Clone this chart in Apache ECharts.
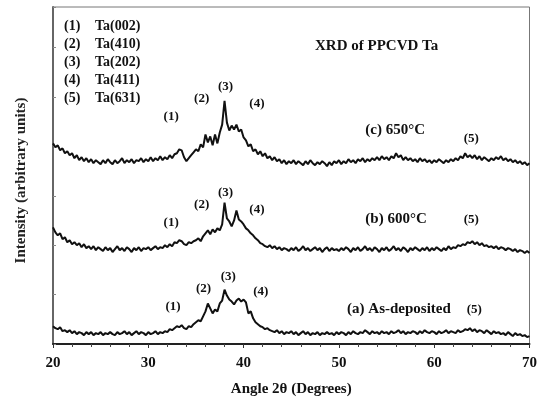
<!DOCTYPE html>
<html>
<head>
<meta charset="utf-8">
<title>XRD of PPCVD Ta</title>
<script src="https://cdn.jsdelivr.net/npm/echarts@6/dist/echarts.min.js"></script>
<style>
  html, body { margin: 0; padding: 0; background: #fff; }
  #xrd { width: 540px; height: 402px; }
</style>
</head>
<body>
<div id="xrd"></div>
<script>
// scan: 20..70 deg, 0.25 deg step
var angleStart = 20;
var angleStep = 0.25;

// (c) 650°C, offset intensity (arb.)
var trace650 = [
  203,199,201,196,198,193,195,191,193,188,191,186,189,185,188,184,187,183,186,184,
  182,186,183,187,184,182,186,183,185,188,183,186,184,187,183,186,185,188,184,187,
  185,189,185,188,186,190,186,189,187,191,188,192,193,197,196,189,185,188,191,194,
  197,195,202,199,212,204,210,201,212,203,214,222,246,224,216,221,217,222,215,217,
  209,206,200,202,195,197,192,195,190,193,188,190,186,189,185,187,183,186,182,185,
  183,186,182,185,183,181,185,182,186,183,181,184,182,185,183,180,184,181,185,183,
  186,182,185,183,187,184,186,183,187,185,188,184,187,185,188,186,189,186,190,187,
  189,186,190,188,193,189,191,186,189,186,188,185,187,184,188,185,187,184,186,183,
  186,184,187,185,183,186,184,187,185,188,186,190,188,193,189,191,188,191,187,190,
  186,189,187,185,188,186,189,187,190,186,188,185,187,184,186,183,185,182,184,181,
  183
];

// (b) 600°C
var trace600 = [
  118,113,110,112,106,108,103,105,101,103,100,102,98,101,97,99,96,99,95,98,
  96,94,98,95,97,93,96,99,95,97,94,98,96,93,97,95,98,94,97,96,
  98,95,97,99,96,98,97,100,98,101,99,103,102,105,104,101,100,103,102,104,
  105,107,104,109,112,115,111,116,113,117,115,121,143,127,124,119,125,135,126,124,
  121,117,115,112,110,107,105,102,101,99,98,100,97,99,96,98,95,97,96,94,
  97,95,98,94,96,99,95,97,94,96,98,95,97,93,96,98,94,97,95,96,
  94,97,95,98,96,93,97,95,98,94,96,99,95,97,94,98,96,93,97,95,
  98,94,96,99,95,97,94,98,96,93,97,95,98,96,94,97,95,98,94,97,
  95,98,96,94,97,95,99,96,98,97,100,99,101,100,103,102,104,101,103,100,
  102,99,100,98,99,97,99,96,98,97,95,97,96,94,96,93,95,94,92,94,
  92
];

// (a) as-deposited
var traceAsDep = [
  18,16,15,17,13,14,12,14,11,13,10,12,11,9,12,10,12,9,11,10,
  12,9,11,10,12,10,9,12,10,11,13,10,12,9,11,13,10,12,11,9,
  12,10,11,13,10,12,11,13,12,15,14,16,18,17,19,16,15,18,17,20,
  22,24,23,28,33,41,36,31,35,33,41,44,55,49,45,43,40,44,46,43,
  45,42,31,33,26,22,20,18,17,15,16,14,13,12,14,11,13,10,12,11,
  13,10,12,9,11,13,10,12,9,11,10,12,9,11,10,12,10,11,9,12,
  10,12,11,9,12,10,13,11,10,12,11,14,12,10,13,11,12,10,13,11,
  12,10,13,11,12,14,11,13,10,12,11,13,12,10,13,11,14,12,11,13,
  12,10,13,11,12,14,11,13,12,11,14,12,13,15,14,16,13,15,12,14,
  13,11,14,12,10,13,11,12,10,11,9,12,10,8,11,9,10,8,9,7,
  8
];

// peak number labels [angle, intensity, text]
var peakLabels = [
  [32.4, 230, '(1)'], [35.6, 248, '(2)'], [38.1, 260, '(3)'], [41.4, 243, '(4)'], [63.9, 208, '(5)'],
  [32.4, 123, '(1)'], [35.6, 141, '(2)'], [38.1, 153, '(3)'], [41.4, 136, '(4)'], [63.9, 126, '(5)'],
  [32.6, 38, '(1)'], [35.8, 56, '(2)'], [38.4, 68, '(3)'], [41.8, 53, '(4)'], [64.2, 35, '(5)']
];
var sampleLabels = [
  [55.9, 216, '(c) 650°C'],
  [56.0, 126, '(b) 600°C'],
  [56.3, 35, '(a) As-deposited']
];
var peakKeys = ['(1)', '(2)', '(3)', '(4)', '(5)'];
var peakNames = ['Ta(002)', 'Ta(410)', 'Ta(202)', 'Ta(411)', 'Ta(631)'];

var serif = '"Liberation Serif", "DejaVu Serif", serif';

function toPairs(arr) {
  var out = [];
  for (var i = 0; i < arr.length; i++) {
    out.push([angleStart + i * angleStep, arr[i]]);
  }
  return out;
}

function traceSeries(name, arr) {
  return {
    name: name,
    type: 'line',
    data: toPairs(arr),
    showSymbol: false,
    symbol: 'none',
    lineStyle: { color: '#111', width: 2 },
    silent: true
  };
}

// legend block top-left
var legendGraphics = [];
for (var k = 0; k < peakKeys.length; k++) {
  legendGraphics.push({
    type: 'text', left: 64, top: 19 + k * 18,
    style: { text: peakKeys[k], font: 'bold 14px ' + serif, fill: '#111' }
  });
  legendGraphics.push({
    type: 'text', left: 95, top: 19 + k * 18,
    style: { text: peakNames[k], font: 'bold 14px ' + serif, fill: '#111' }
  });
}
legendGraphics.push({
  type: 'text', left: 315, top: 39,
  style: { text: 'XRD of PPCVD Ta', font: 'bold 15px ' + serif, fill: '#111' }
});

var dom = document.getElementById('xrd');
var myChart = echarts.init(dom);
var option = {
  animation: false,
  backgroundColor: '#fff',
  grid: {
    left: 53,
    right: 8,
    top: 7,
    bottom: 54,
    show: true,
    borderColor: '#777',
    borderWidth: 1
  },
  xAxis: {
    type: 'value',
    min: 20,
    max: 70,
    interval: 10,
    name: 'Angle 2θ (Degrees)',
    nameLocation: 'middle',
    nameGap: 38,
    nameTextStyle: { fontFamily: serif, fontWeight: 'bold', fontSize: 15, color: '#111' },
    axisLine: { lineStyle: { color: '#222', width: 2 } },
    axisTick: { length: 4, lineStyle: { color: '#333' } },
    minorTick: { show: true, splitNumber: 5, length: 3, lineStyle: { color: '#444' } },
    splitLine: { show: false },
    axisLabel: { margin: 12, fontFamily: serif, fontWeight: 'bold', fontSize: 15, color: '#111' }
  },
  yAxis: {
    type: 'value',
    min: 0,
    max: 341,
    interval: 50,
    name: 'Intensity (arbitrary units)',
    nameLocation: 'middle',
    nameGap: 24,
    nameTextStyle: { fontFamily: serif, fontWeight: 'bold', fontSize: 15, color: '#222', padding: [0, 10, 0, 0] },
    axisLine: { show: true, lineStyle: { color: '#666', width: 2 } },
    axisTick: { show: true, inside: true, length: 3, lineStyle: { color: '#888' } },
    splitLine: { show: false },
    axisLabel: { show: false }
  },
  graphic: legendGraphics,
  series: [
    traceSeries('650', trace650),
    traceSeries('600', trace600),
    traceSeries('as-dep', traceAsDep)
  ]
};
myChart.setOption(option, true);

// annotations placed at data coordinates
function annot(list, size) {
  var out = [];
  for (var i = 0; i < list.length; i++) {
    var p = myChart.convertToPixel({ gridIndex: 0 }, [list[i][0], list[i][1]]);
    out.push({
      type: 'text', x: p[0], y: p[1], silent: true,
      style: {
        text: list[i][2], font: 'bold ' + size + 'px ' + serif, fill: '#111',
        align: 'center', verticalAlign: 'middle'
      }
    });
  }
  return out;
}
myChart.setOption({
  graphic: legendGraphics.concat(annot(peakLabels, 13), annot(sampleLabels, 15))
});
</script>
</body>
</html>
